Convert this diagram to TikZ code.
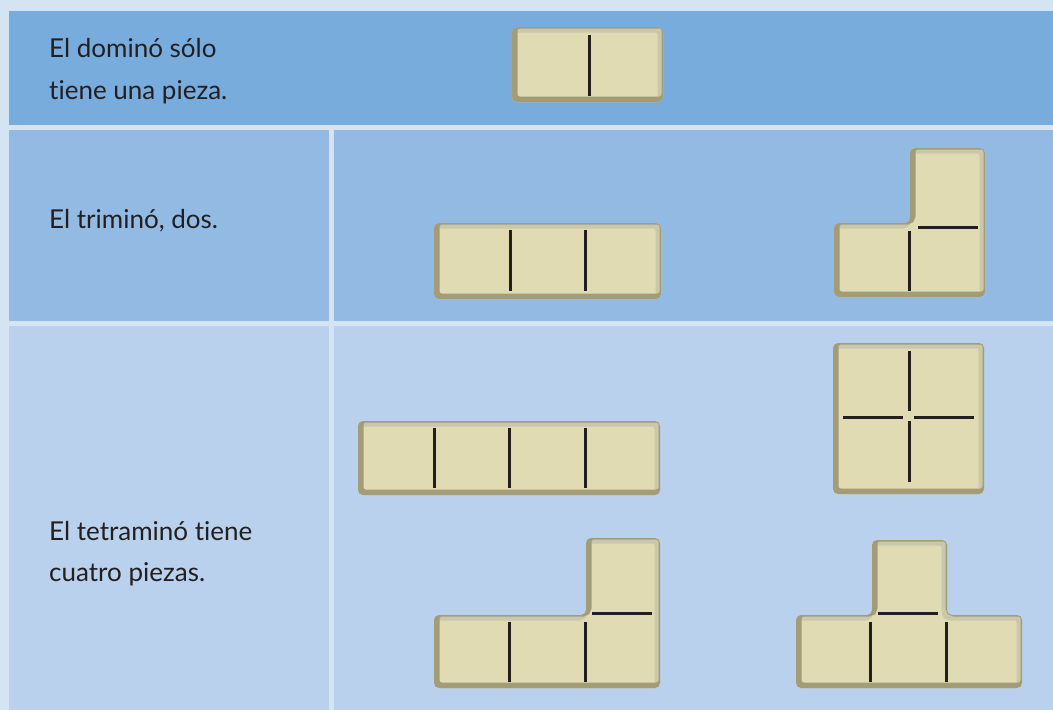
\documentclass[tikz,border=0pt]{standalone}
\usepackage{fontspec}
\setmainfont[Ligatures={NoCommon,NoRare,NoContextual}]{Lato}
\definecolor{bgc}{HTML}{D5E4F3}
\definecolor{rowa}{HTML}{78ACDD}
\definecolor{rowb}{HTML}{93BAE3}
\definecolor{rowc}{HTML}{B9D1EC}
\definecolor{face}{HTML}{E0DBB3}
\definecolor{darkedge}{HTML}{A39C77}
\definecolor{lightedge}{HTML}{CAC8AA}
\definecolor{ink}{HTML}{231F20}
\newcommand\tile[1]{%
  \begin{scope}
    \clip[rounded corners=5] #1;
    \fill[face, rounded corners=5] #1;
    \draw[lightedge, line width=7, rounded corners=5, shift={(-2,2)}] #1;
    \draw[darkedge, line width=7, rounded corners=5, shift={(2,-2)}] #1;
  \end{scope}}
\tikzset{
  divline/.style={ink, line width=3},
  lbl/.style={anchor=base west, inner sep=0, text=ink, font=\fontsize{26}{30}\selectfont},
}
\begin{document}
\begin{tikzpicture}[x=1pt,y=-1pt]
\useasboundingbox (0,0) rectangle (1053,710);
\fill[bgc] (0,0) rectangle (1053,710);
% rows
\fill[rowa] (9,11) rectangle (1053,125);
\fill[rowb] (9,130) rectangle (329,321);
\fill[rowb] (334,130) rectangle (1053,321);
\fill[rowc] (9,326) rectangle (329,710);
\fill[rowc] (334,326) rectangle (1053,710);
% texts
\node[lbl] (t1a) at (49,57) {El dominó sólo};
\node[lbl] (t1b) at (49,99) {tiene una pieza.};
\node[lbl] (t2) at (49,228) {El triminó, dos.};
\node[lbl] (t3a) at (49,540) {El tetraminó tiene};
\node[lbl] (t3b) at (49,581) {cuatro piezas.};
% domino
\tile{(512,27) -- (663,27) -- (663,102) -- (512,102) -- cycle}
\draw[divline] (589,35) -- (589,96);
% tromino I
\tile{(434,223) -- (661,223) -- (661,299) -- (434,299) -- cycle}
\draw[divline] (510,230) -- (510,291);
\draw[divline] (585,230) -- (585,291);
% tromino L
\tile{(834,223) -- (910,223) -- (910,148) -- (985,148) -- (985,297) -- (834,297) -- cycle}
\draw[divline] (909,231) -- (909,291);
\draw[divline] (918,227) -- (978,227);
% tetromino I
\tile{(358,421) -- (660,421) -- (660,495) -- (358,495) -- cycle}
\draw[divline] (434,428) -- (434,488);
\draw[divline] (509,428) -- (509,488);
\draw[divline] (585,428) -- (585,488);
% tetromino square
\tile{(833,343) -- (984,343) -- (984,494) -- (833,494) -- cycle}
\draw[divline] (909,351) -- (909,411);
\draw[divline] (909,421) -- (909,482);
\draw[divline] (843,417) -- (903,417);
\draw[divline] (914,417) -- (974,417);
% tetromino L
\tile{(434,615) -- (586,615) -- (586,538) -- (660,538) -- (660,688) -- (434,688) -- cycle}
\draw[divline] (509,622) -- (509,682);
\draw[divline] (585,622) -- (585,682);
\draw[divline] (592,613) -- (652,613);
% tetromino T
\tile{(796,615) -- (872,615) -- (872,540) -- (947,540) -- (947,615) -- (1022,615) -- (1022,688) -- (796,688) -- cycle}
\draw[divline] (870,622) -- (870,682);
\draw[divline] (946,622) -- (946,682);
\draw[divline] (878,613) -- (938,613);
\end{tikzpicture}
\end{document}
